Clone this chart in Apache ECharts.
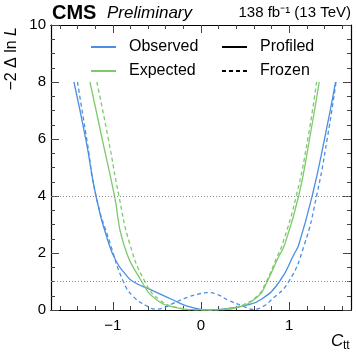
<!DOCTYPE html>
<html>
<head>
<meta charset="utf-8">
<script src="https://cdn.jsdelivr.net/npm/echarts@6/dist/echarts.min.js"></script>
<style>
  html, body { margin: 0; padding: 0; background: #fff; }
  #chart { width: 357px; height: 355px; }
</style>
</head>
<body>
<div id="chart"></div>
<script>
// C_tt vs -2 Delta ln L
var obsProfX = [-1.44, -1.30, -1.19, -1.04, -0.95, -0.86, -0.767, -0.56, -0.315, -0.15, 0.0, 0.10, 0.30, 0.49, 0.68, 0.89, 1.06, 1.107, 1.26, 1.40, 1.525];
var obsProfY = [8, 5.9, 4, 2.28, 1.65, 1.27, 0.99, 0.70, 0.35, 0.13, 0.02, 0, 0.05, 0.15, 0.37, 1.0, 1.99, 2.28, 4, 6, 8];

var obsFrozX = [-1.40, -1.29, -1.19, -1.024, -0.88, -0.767, -0.60, -0.52, -0.42, -0.316, -0.15, 0.0, 0.08, 0.18, 0.305, 0.49, 0.59, 0.70, 0.795, 0.995, 1.17, 1.31, 1.43, 1.53];
var obsFrozY = [8, 5.9, 4, 2.28, 1.0, 0.47, 0.12, 0.03, 0.08, 0.23, 0.45, 0.58, 0.61, 0.55, 0.35, 0.12, 0.02, 0.12, 0.35, 1.0, 2.28, 4, 6, 8];

var expProfX = [-1.258, -1.12, -0.98, -0.88, -0.673, -0.50, -0.28, -0.10, 0.05, 0.20, 0.38, 0.645, 0.75, 0.87, 0.946, 1.107, 1.23, 1.34];
var expProfY = [8, 6, 4, 2.35, 1.0, 0.35, 0.08, 0.01, 0, 0.01, 0.07, 0.47, 1.0, 1.81, 2.28, 4, 6, 8];

var expFrozX = [-1.18, -1.05, -0.93, -0.81, -0.636, -0.467, -0.24, -0.05, 0.10, 0.30, 0.45, 0.64, 0.74, 0.86, 0.92, 1.08, 1.21, 1.31];
var expFrozY = [8, 6, 4, 2.35, 1.0, 0.35, 0.07, 0.005, 0, 0.03, 0.15, 0.5, 1.0, 1.85, 2.28, 4, 6, 8];

var refLevels = [1, 4];
var xMajor = [-1, 0, 1];
var xMinor = [-1.6, -1.4, -1.2, -0.8, -0.6, -0.4, -0.2, 0.2, 0.4, 0.6, 0.8, 1.2, 1.4, 1.6];

var blue = '#4a8fe3';
var green = '#7dca6b';
var font = 'Liberation Sans, Arial, Helvetica, sans-serif';

function zip(xs, ys) {
  var out = [];
  for (var i = 0; i < xs.length; i++) out.push([xs[i], ys[i]]);
  return out;
}

function minus(v) {
  return v < 0 ? '\u2212' + Math.abs(v) : String(v);
}

function curve(name, color, dashed, xs, ys) {
  return {
    name: name,
    type: 'line',
    data: zip(xs, ys),
    symbol: 'none',
    smooth: 0.5,
    color: color,
    lineStyle: { color: color, width: 1.3, type: dashed ? [4, 3] : 'solid' },
    animation: false
  };
}

function xAx(pos, ticks, len, labels) {
  return {
    type: 'value', position: pos, min: -1.7, max: 1.7,
    axisLine: { show: true, onZero: false, lineStyle: { color: '#000', width: 1.2 } },
    axisTick: { show: true, inside: true, length: len, customValues: ticks, lineStyle: { color: '#444' } },
    axisLabel: labels ? { show: true, customValues: ticks, formatter: minus, color: '#000', fontSize: 15, fontFamily: font, margin: 8 } : { show: false },
    splitLine: { show: false }
  };
}

function yAx(pos, labels) {
  return {
    type: 'value', position: pos, min: 0, max: 10, interval: 2,
    axisLine: { show: true, onZero: false, lineStyle: { color: '#000', width: 1.2 } },
    axisTick: { show: true, inside: true, length: 8, lineStyle: { color: '#444' } },
    minorTick: { show: true, splitNumber: 4, length: 4, lineStyle: { color: '#444' } },
    axisLabel: labels ? { show: true, color: '#000', fontSize: 15, fontFamily: font, margin: 5 } : { show: false },
    splitLine: { show: false }
  };
}

function leg(name, left, top) {
  return {
    data: [name], left: left, top: top, padding: 0,
    itemWidth: 25, itemHeight: 14, selectedMode: false,
    itemStyle: { color: 'transparent', borderWidth: 0, opacity: 0 },
    textStyle: { color: '#000', fontSize: 16, fontFamily: font, padding: [0, 0, 0, 8] }
  };
}

var chart = echarts.init(document.getElementById('chart'));

var option = {
  backgroundColor: '#fff',
  animation: false,
  grid: { left: 51, right: 6, top: 25, bottom: 45 },
  legend: [
    leg('Observed', 90, 39),
    leg('Expected', 90, 63),
    leg('Profiled', 221, 39),
    leg('Frozen', 221, 63)
  ],
  xAxis: [
    xAx('bottom', xMajor, 8, true),
    xAx('bottom', xMinor, 4, false),
    xAx('top', xMajor, 8, false),
    xAx('top', xMinor, 4, false)
  ],
  yAxis: [yAx('left', true), yAx('right', false)],
  series: [
    {
      name: 'levels', type: 'line', data: [], silent: true,
      markLine: {
        silent: true, symbol: 'none', label: { show: false },
        lineStyle: { color: '#888', width: 1, type: [1, 2] },
        data: refLevels.map(function (v) { return { yAxis: v }; })
      }
    },
    curve('Observed', blue, false, obsProfX, obsProfY),
    curve('Observed', blue, true, obsFrozX, obsFrozY),
    curve('Expected', green, false, expProfX, expProfY),
    curve('Expected', green, true, expFrozX, expFrozY),
    curve('Profiled', '#000', false, [], []),
    curve('Frozen', '#000', true, [], [])
  ],
  graphic: [
    { type: 'text', left: 52, top: 3, style: { text: 'CMS', font: 'bold 20px ' + font, fill: '#000' } },
    { type: 'text', left: 107, top: 5, style: { text: 'Preliminary', font: 'italic 17px ' + font, fill: '#000' } },
    { type: 'text', right: 6, top: 5, style: { text: '138 fb\u207B\u00B9 (13 TeV)', font: '15px ' + font, fill: '#000' } },
    {
      type: 'text', x: 12, y: 27, rotation: Math.PI / 2,
      style: {
        text: '{a|\u22122 \u0394 ln }{i|L}', align: 'right', verticalAlign: 'middle',
        rich: {
          a: { fontSize: 16, fontFamily: font, fill: '#000' },
          i: { fontSize: 16, fontFamily: font, fontStyle: 'italic', fill: '#000' }
        }
      }
    },
    { type: 'text', x: 331, y: 341, style: { text: 'C', font: 'italic 17px ' + font, fill: '#000', verticalAlign: 'middle' } },
    { type: 'text', x: 343, y: 346, style: { text: 'tt', font: '12px ' + font, fill: '#000', verticalAlign: 'middle' } }
  ]
};

chart.setOption(option);
</script>
</body>
</html>
